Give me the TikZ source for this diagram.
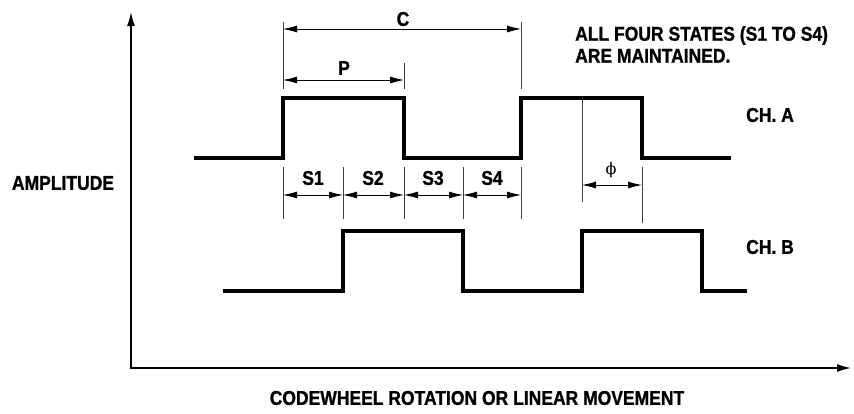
\documentclass[tikz,border=0pt]{standalone}
\usepackage{fontspec}
\setmainfont{Liberation Sans}[FakeStretch=0.875, BoldFeatures={FakeBold=1}]
\newfontfamily\phifont{DejaVu Serif}
\usetikzlibrary{arrows.meta}
\begin{document}
\begin{tikzpicture}[x=1pt,y=-1pt,
  sig/.style={line width=4pt, line join=miter, line cap=butt},
  ext/.style={line width=0.8pt, draw=black!75},
  dim/.style={line width=0.8pt, {Latex[length=14pt,width=7pt]}-{Latex[length=14pt,width=7pt]}},
  axis/.style={line width=1.5pt, {Latex[length=14pt,width=8pt]}-{Latex[length=14pt,width=8pt]}},
  lbl/.style={font=\fontsize{20}{22}\selectfont\bfseries, inner sep=0pt}]
\useasboundingbox (0,0) rectangle (854,413);
% axes
\coordinate (ytop) at (131,12);
\coordinate (xend) at (851,368);
\draw[axis] (ytop) |- (xend);
% channel A
\draw[sig] (194,158) -- (283,158) -- (283,98) -- (404,98) -- (404,158) -- (521,158) -- (521,98) -- (642,98) -- (642,158) -- (731,158);
% channel B
\draw[sig] (223,291) -- (343,291) -- (343,231) -- (463,231) -- (463,291) -- (582,291) -- (582,231) -- (702,231) -- (702,291) -- (747,291);
% C and P extension lines
\coordinate (c1t) at (283,22); \coordinate (c1b) at (283,89);
\coordinate (c2t) at (521,22); \coordinate (c2b) at (521,89);
\coordinate (p2t) at (404,63); \coordinate (p2b) at (404,89);
\draw[ext] (c1t) -- (c1b);
\draw[ext] (c2t) -- (c2b);
\draw[ext] (p2t) -- (p2b);
\coordinate (ca) at (283,29); \coordinate (cb) at (521,29);
\coordinate (pa) at (283,80); \coordinate (pb) at (404,80);
\draw[dim] (ca) -- (cb);
\draw[dim] (pa) -- (pb);
\node[lbl] (C) at (403,19) {C};
\node[lbl] (P) at (344,68) {P};
% states
\foreach \n/\x in {1/283,2/343,3/404,4/463,5/521}{
  \coordinate (t\n) at (\x,167);
  \coordinate (b\n) at (\x,219);
  \coordinate (m\n) at (\x,195);
  \draw[ext] (t\n) -- (b\n);
}
\draw[dim] (m1) -- (m2);
\draw[dim] (m2) -- (m3);
\draw[dim] (m3) -- (m4);
\draw[dim] (m4) -- (m5);
\node[lbl] (s1) at (313,178) {S1};
\node[lbl] (s2) at (373,178) {S2};
\node[lbl] (s3) at (433,178) {S3};
\node[lbl] (s4) at (492,178) {S4};
% phase
\coordinate (f1t) at (582,98); \coordinate (f1b) at (582,202);
\coordinate (f2t) at (642,167); \coordinate (f2b) at (642,223);
\draw[ext] (f1t) -- (f1b);
\draw[ext] (f2t) -- (f2b);
\coordinate (fa) at (582,185); \coordinate (fb) at (642,185);
\draw[dim] (fa) -- (fb);
\node[inner sep=0pt, font=\fontsize{16}{18}\selectfont\phifont] (phi) at (611,170) {ϕ};
% labels
\node[lbl, anchor=north west, align=left] (note) at (575,26) {ALL FOUR STATES (S1 TO S4)\\ARE MAINTAINED.};
\node[lbl, anchor=west] (cha) at (746,115) {CH. A};
\node[lbl, anchor=west] (chb) at (746,247) {CH. B};
\node[lbl] (amp) at (63,183) {AMPLITUDE};
\node[lbl] (xl) at (477,398) {CODEWHEEL ROTATION OR LINEAR MOVEMENT};
\end{tikzpicture}
\end{document}
